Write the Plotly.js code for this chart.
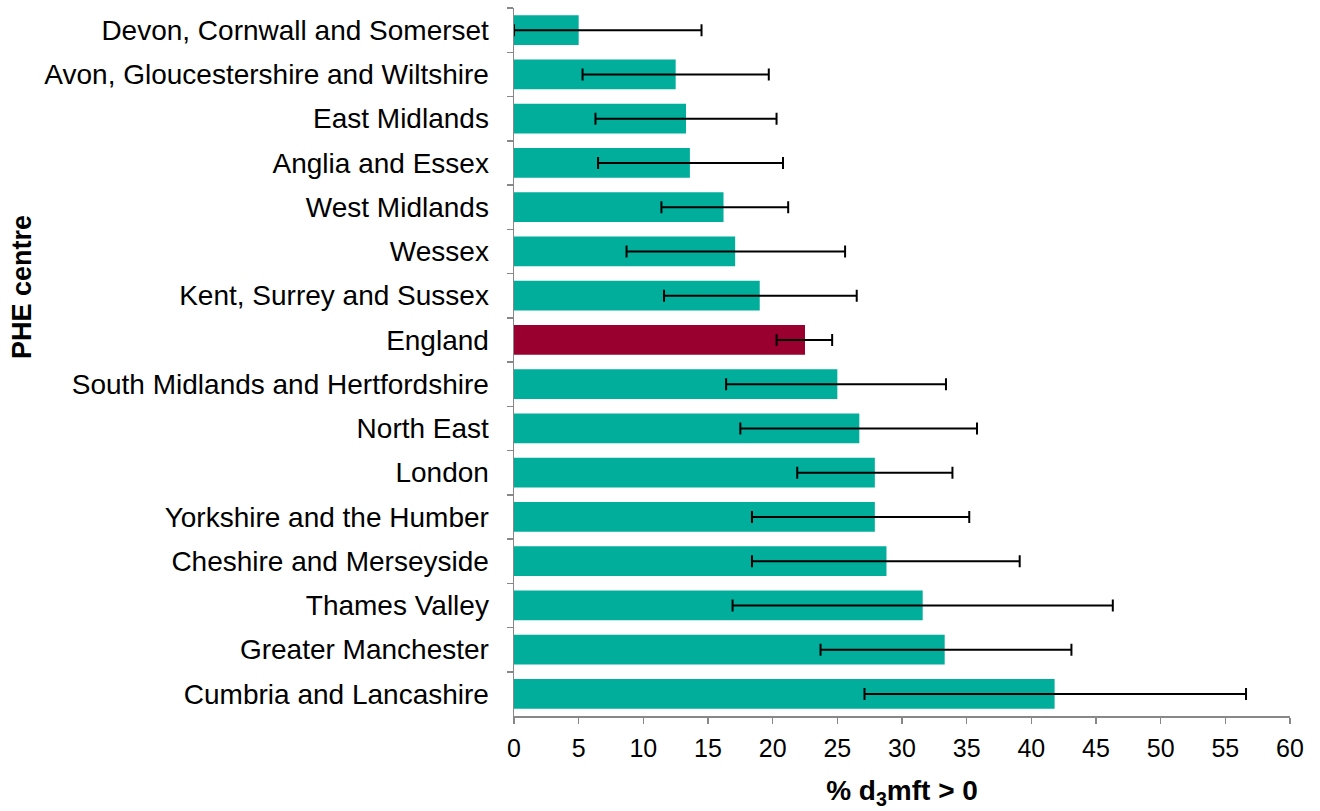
<!DOCTYPE html>
<html>
<head>
<meta charset="utf-8">
<script src="https://cdn.plot.ly/plotly-3.0.1.min.js"></script>
<style>html,body{margin:0;padding:0;background:#fff;}#chart{width:1320px;height:811px;}</style>
</head>
<body>
<div id="chart"></div>
<script>
const categories = ["Devon, Cornwall and Somerset","Avon, Gloucestershire and Wiltshire","East Midlands","Anglia and Essex","West Midlands","Wessex","Kent, Surrey and Sussex","England","South Midlands and Hertfordshire","North East","London","Yorkshire and the Humber","Cheshire and Merseyside","Thames Valley","Greater Manchester","Cumbria and Lancashire"];
const values = [5.0,12.5,13.3,13.6,16.2,17.1,19.0,22.5,25.0,26.7,27.9,27.9,28.8,31.6,33.3,41.8];
const lowerCI = [0.0,5.3,6.3,6.5,11.4,8.7,11.6,20.3,16.4,17.5,21.9,18.4,18.4,16.9,23.7,27.1];
const upperCI = [14.5,19.7,20.3,20.8,21.2,25.6,26.5,24.6,33.4,35.8,33.9,35.2,39.1,46.3,43.1,56.6];
const xTicks = [0,5,10,15,20,25,30,35,40,45,50,55,60];

const colors = categories.map(c => c === "England" ? "#990030" : "#00AE9B");
const plus = values.map((v,i) => upperCI[i] - v);
const minus = values.map((v,i) => v - lowerCI[i]);

const trace = {
  type: "bar",
  orientation: "h",
  y: categories,
  x: values,
  marker: {color: colors},
  error_x: {type: "data", symmetric: false, array: plus, arrayminus: minus, color: "#000", thickness: 2, width: 6},
  hoverinfo: "x+y"
};

const layout = {
  width: 1320, height: 811,
  margin: {l: 514, r: 30, t: 8, b: 95},
  paper_bgcolor: "#fff", plot_bgcolor: "#fff",
  bargap: 0.33,
  showlegend: false,
  font: {family: "Liberation Sans, Arial, sans-serif", size: 22, color: "#000"},
  xaxis: {
    range: [0, 60], tickvals: xTicks, ticktext: xTicks.map(String),
    showgrid: false, zeroline: false,
    showline: true, linecolor: "#888", linewidth: 1.5,
    ticks: "outside", ticklen: 6, tickcolor: "#888", tickwidth: 1.5,
    tickfont: {size: 25}, ticklabelstandoff: 3,
    title: {text: "<b>% d<sub>3</sub>mft > 0</b>", font: {size: 28}, standoff: 20}
  },
  yaxis: {
    autorange: "reversed", type: "category",
    showgrid: false, zeroline: false,
    showline: true, linecolor: "#888", linewidth: 1.5,
    ticks: "outside", ticklen: 6, tickcolor: "#888", tickwidth: 1.5,
    tickson: "boundaries", ticklabelstandoff: 18,
    tickfont: {size: 28}
  },
  annotations: [{
    text: "<b>PHE centre</b>", xref: "paper", yref: "paper",
    x: -514/776 + 22/776, y: (716 - 287) / 708, xanchor: "center", yanchor: "middle",
    textangle: -90, showarrow: false, font: {size: 27, color: "#000"}
  }]
};

Plotly.newPlot("chart", [trace], layout, {displayModeBar: false, staticPlot: true});
</script>
</body>
</html>
